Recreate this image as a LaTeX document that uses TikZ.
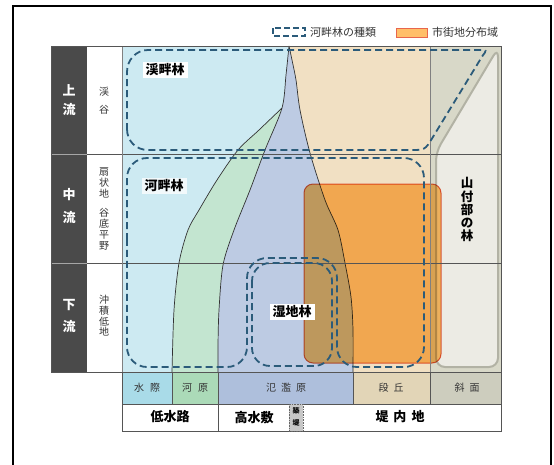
\documentclass[tikz,border=0pt]{standalone}
\usepackage{fontspec}
\setmainfont{Noto Sans CJK JP}
\definecolor{cBlue}{HTML}{CDEAF2}
\definecolor{cGreen}{HTML}{C3E5D0}
\definecolor{cBG}{HTML}{BDCBE3}
\definecolor{cBeige}{HTML}{F1E0C3}
\definecolor{cGray}{HTML}{D8D8C8}
\definecolor{cLight}{HTML}{ECEBE4}
\definecolor{cLightBorder}{HTML}{B2B2A4}
\definecolor{lBlue}{HTML}{A9DBE8}
\definecolor{lGreen}{HTML}{ABDAB8}
\definecolor{lBG}{HTML}{AEBFDC}
\definecolor{lBeige}{HTML}{E2D5B7}
\definecolor{lGray}{HTML}{CDCDBE}
\definecolor{cDark}{HTML}{4A4A4A}
\definecolor{cDash}{HTML}{2B5B7A}
\definecolor{cOrangeM}{RGB}{255,191,105}
\definecolor{cOrangeLine}{HTML}{E8664C}
\definecolor{cLine}{HTML}{555555}
\definecolor{cTxt}{HTML}{333333}
\tikzset{
  dashline/.style={draw=cDash, line width=1.8pt, dash pattern=on 7pt off 4pt},
  curveline/.style={draw=black!80, line width=0.7pt},
  gridline/.style={draw=cLine, line width=0.8pt},
  darktxt/.style={text=white, font=\fontsize{13}{13}\selectfont\bfseries, inner sep=0pt},
  coltxt/.style={text=cTxt, font=\fontsize{10}{10}\selectfont, inner sep=0pt},
  zonetxt/.style={text=cTxt, font=\fontsize{10}{10}\selectfont, inner sep=0pt},
  bottxt/.style={text=black, font=\fontsize{13}{13}\selectfont\bfseries, inner sep=0pt},
  foresttxt/.style={text=black, font=\fontsize{13}{13}\selectfont\bfseries, inner xsep=3pt, inner ysep=1.5pt},
  mtntxt/.style={text=black, font=\fontsize{12.5}{12.5}\selectfont\bfseries, inner sep=0pt},
  legtxt/.style={text=cTxt, font=\fontsize{11}{11}\selectfont, inner sep=0pt, anchor=west},
}
\begin{document}
\begin{tikzpicture}[x=1pt,y=-1pt]
\useasboundingbox (0,0) rectangle (554,464);
\fill[white] (0,0) rectangle (554,464);
% outer frame
\draw[black, line width=2pt] (13,470) -- (13,6) -- (551,6) -- (551,470);

% legend
\draw[cDash, line width=1.5pt, dash pattern=on 6pt off 3pt] (273,28) rectangle (305,36);
\node[legtxt] (leg1) at (310,32) {河畔林の種類};
\filldraw[fill=cOrangeM, draw=cOrangeLine, line width=1pt] (396,28) rectangle (427,37);
\node[legtxt] (leg2) at (432,32) {市街地分布域};

% left columns
\fill[cDark] (51,46) rectangle (87,372);
\fill[white] (87,46) rectangle (122,372);

% base regions
\fill[cBlue] (122,46) rectangle (430,372);
\fill[cGreen] plot[smooth] coordinates {(282,108) (259,130) (238,150) (217,180) (199,210) (188,230) (179,263) (174,310) (172,372)} -- (290,372) -- (290,108) -- cycle;
\fill[cBeige] plot[smooth] coordinates {(289,46) (292,60) (296,80) (300,110) (310,153) (325,200) (338,230) (345,263) (351,297) (353,330) (353,372)} -- (430,372) -- (430,46) -- cycle;
\fill[cBG] plot[smooth] coordinates {(289,46) (286,75) (282,108) (265,150) (250,190) (234,230) (223,265) (219,310) (218,345) (218,372)} -- plot[smooth] coordinates {(353,372) (353,330) (351,297) (345,263) (338,230) (325,200) (310,153) (300,110) (296,80) (292,60) (289,46)} -- cycle;
\fill[cGray] (430,46) rectangle (501,372);
\filldraw[fill=cLight, draw=cLightBorder, line width=2pt, rounded corners=9pt] (498,48) -- (498,367) -- (436,367) -- (436,152) -- cycle;

% boundary curves
\draw[curveline] plot[smooth] coordinates {(282,108) (259,130) (238,150) (217,180) (199,210) (188,230) (179,263) (174,310) (172,372)};
\draw[curveline] plot[smooth] coordinates {(289,46) (286,75) (282,108) (265,150) (250,190) (234,230) (223,265) (219,310) (218,345) (218,372)};
\draw[curveline] plot[smooth] coordinates {(289,46) (292,60) (296,80) (300,110) (310,153) (325,200) (338,230) (345,263) (351,297) (353,330) (353,372)};

% urban area (orange)
\filldraw[fill=cOrangeM, draw=cOrangeLine, line width=1pt, rounded corners=9pt, blend mode=multiply] (304,184) rectangle (441,363);

% grid lines
\draw[gridline] (87,154) -- (501,154);
\draw[gridline] (87,263) -- (501,263);
\draw[draw=gray!70, line width=0.8pt] (51,154) -- (87,154);
\draw[draw=gray!70, line width=0.8pt] (51,263) -- (87,263);
\draw[draw=gray, line width=0.8pt] (122,46) -- (122,372);
\draw[draw=gray, line width=0.8pt] (430,46) -- (430,372);
\draw[gridline] (51,46) rectangle (501,372);

% dashed outlines
\draw[dashline] (127,130) -- (127,72) .. controls (127,60) and (136,50) .. (148,50) -- (479,50) .. controls (487,50) .. (482.4,56) -- (432.8,137.2) .. controls (425,150) .. (411,150) -- (148,150) .. controls (136,150) and (127,141) .. (127,129) -- cycle;
\draw[dashline, rounded corners=20pt] (127,260) -- (127,158) -- (424,158) -- (424,367) -- (337,367) -- (337,258) -- (247,258) -- (247,367) -- (127,367) -- cycle;
\draw[dashline, rounded corners=18pt] (252,263) rectangle (332,366);

% forest labels
\node[foresttxt, fill=white] (keihan) at (165,70) {渓畔林};
\node[foresttxt, fill=white, fill opacity=0.75, text opacity=1] (kahan) at (164,186) {河畔林};
\node[foresttxt, fill=white] (shitchi) at (292,312) {湿地林};
\node[mtntxt] (ya1) at (467,183) {山};
\node[mtntxt] (ya2) at (467,197) {付};
\node[mtntxt] (ya3) at (467,210) {部};
\node[mtntxt] (ya4) at (467,223) {の};
\node[mtntxt] (ya5) at (467,236) {林};

% dark column text
\node[darktxt] (u1) at (69,90) {上};
\node[darktxt] (u2) at (69,110) {流};
\node[darktxt] (m1) at (69,195) {中};
\node[darktxt] (m2) at (69,218) {流};
\node[darktxt] (d1) at (69,305) {下};
\node[darktxt] (d2) at (69,327) {流};

% white column text
\node[coltxt] (k1) at (104,92) {渓};
\node[coltxt] (k2) at (104,110) {谷};
\node[coltxt] (s1) at (104,172) {扇};
\node[coltxt] (s2) at (104,183) {状};
\node[coltxt] (s3) at (104,194) {地};
\node[coltxt] (s4) at (104,213) {谷};
\node[coltxt] (s5) at (104,224) {底};
\node[coltxt] (s6) at (104,235) {平};
\node[coltxt] (s7) at (104,246) {野};
\node[coltxt] (c1) at (104,300) {沖};
\node[coltxt] (c2) at (104,310.7) {積};
\node[coltxt] (c3) at (104,321.3) {低};
\node[coltxt] (c4) at (104,332) {地};

% bottom row 1
\filldraw[fill=lBlue, draw=cLine, line width=0.8pt] (122,372) rectangle (172,404);
\filldraw[fill=lGreen, draw=cLine, line width=0.8pt] (172,372) rectangle (218,404);
\filldraw[fill=lBG, draw=cLine, line width=0.8pt] (218,372) rectangle (353,404);
\filldraw[fill=lBeige, draw=cLine, line width=0.8pt] (353,372) rectangle (430,404);
\filldraw[fill=lGray, draw=cLine, line width=0.8pt] (430,372) rectangle (501,404);
\node[zonetxt] (z1) at (147,388) {水\hspace{6pt}際};
\node[zonetxt] (z2) at (195,388) {河\hspace{6pt}原};
\node[zonetxt] (z3) at (286,388) {氾\hspace{5pt}濫\hspace{5pt}原};
\node[zonetxt] (z4) at (391,388) {段\hspace{5pt}丘};
\node[zonetxt] (z5) at (467,388) {斜\hspace{5pt}面};

% bottom row 2
\draw[draw=cLine, line width=0.8pt] (122,404) rectangle (501,431);
\draw[draw=cLine, line width=0.8pt] (218,404) -- (218,431);
\filldraw[fill=black!22, draw=black!60, line width=0.6pt, densely dotted] (289,404) rectangle (303,431);
\node[bottxt] (b1) at (170,417) {低水路};
\node[bottxt] (b2) at (254,417) {高水敷};
\node[text=black, font=\fontsize{7}{7}\selectfont\bfseries, inner sep=0pt] (t1) at (296,411) {築};
\node[text=black, font=\fontsize{7}{7}\selectfont\bfseries, inner sep=0pt] (t2) at (296,423) {堤};
\node[bottxt] (b3) at (400,417) {堤\hspace{5pt}内\hspace{5pt}地};
\end{tikzpicture}
\end{document}
